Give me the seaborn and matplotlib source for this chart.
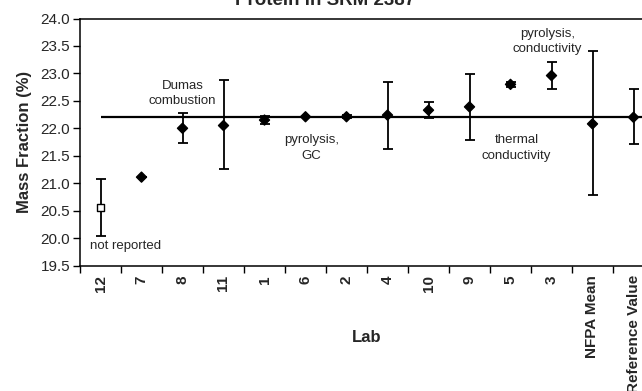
import numpy as np
import pandas as pd
import seaborn as sns
import matplotlib.pyplot as plt

# lab results (mass fraction %, error bar limits)
labs = ["12", "7", "8", "11", "1", "6", "2", "4", "10", "9", "5", "3",
        "NFPA Mean", "Reference Value"]
values = [20.55, 21.11, 22.00, 22.05, 22.15, 22.21, 22.21, 22.24, 22.33,
          22.39, 22.80, 22.96, 22.08, 22.20]
err_low = [20.03, 21.11, 21.73, 21.26, 22.08, 22.21, 22.18, 21.62, 22.19,
           21.79, 22.75, 22.72, 20.78, 21.71]
err_high = [21.07, 21.11, 22.28, 22.88, 22.22, 22.21, 22.24, 22.85, 22.48,
            22.98, 22.85, 23.20, 23.41, 22.71]
method = ["not reported"] + ["reported"] * 13
ref_value = 22.20

sns.set_style("ticks")
plt.rcParams['font.family'] = ['Liberation Sans', 'DejaVu Sans']

df = pd.DataFrame({"Lab": labs, "Mass": values, "lo": err_low, "hi": err_high,
                   "method": method})

fig = plt.figure(figsize=(6.42, 3.91), dpi=100)
ax = fig.add_axes([80 / 642, 1 - 265.5 / 391, 574 / 642, 247 / 391])

x = np.arange(len(labs))
yerr = np.array([df["Mass"] - df["lo"], df["hi"] - df["Mass"]])
ax.errorbar(x, df["Mass"], yerr=yerr, fmt="none", ecolor="black",
            elinewidth=1.3, capsize=3.8, capthick=1.3, zorder=2)

ax.hlines(ref_value, 0, len(labs) - 0.5, color="black", lw=1.6, zorder=1)

sns.scatterplot(data=df, x="Lab", y="Mass", style="method",
                markers={"not reported": "s", "reported": "D"},
                hue="method", palette={"not reported": "white", "reported": "black"},
                edgecolor="black", linewidth=1.0, s=26, legend=False, ax=ax, zorder=3)

ax.set_xlim(-0.5, len(labs) - 0.5)
ax.set_ylim(19.5, 24.0)
ax.set_yticks(np.arange(19.5, 24.01, 0.5))
ax.set_yticklabels([f"{v:.1f}" for v in np.arange(19.5, 24.01, 0.5)], fontsize=11)

# ticks at category boundaries, labels at centres
ax.set_xticks(x)
ax.set_xticklabels(labs, rotation=90, fontsize=11, fontweight="bold")
ax.tick_params(axis="x", which="major", length=0, pad=7)
ax.set_xticks(np.arange(-0.5, len(labs), 1), minor=True)
ax.tick_params(axis="x", which="minor", length=5, width=1, color="black")
ax.tick_params(axis="y", length=5, width=1, color="black", pad=2)

for s in ["left", "bottom", "top"]:
    ax.spines[s].set_color("black")
    ax.spines[s].set_linewidth(1.1)
ax.spines["right"].set_visible(False)

ax.set_xlabel("Lab", fontsize=12, fontweight="bold")
ax.xaxis.set_label_coords(0.5, -0.29)
ax.xaxis.label.set_va("center")
ax.set_ylabel("Mass Fraction (%)", fontsize=12, fontweight="bold", labelpad=6)

ax.text(2.0, 22.63, "Dumas\ncombustion", ha="center", va="center", fontsize=9.5,
        linespacing=1.4)
ax.text(5.15, 21.64, "pyrolysis,\nGC", ha="center", va="center", fontsize=9.5,
        linespacing=1.4)
ax.text(10.15, 21.64, "thermal\nconductivity", ha="center", va="center", fontsize=9.5,
        linespacing=1.4)
ax.text(10.9, 23.58, "pyrolysis,\nconductivity", ha="center", va="center", fontsize=9.5,
        linespacing=1.4)
ax.text(0.6, 19.85, "not reported", ha="center", va="center", fontsize=9.5)

fig.text(325 / 642, 1 - 5 / 391, "Protein in SRM 2387", ha="center",
         va="baseline", fontsize=13.5, fontweight="bold")

fig.savefig("out.png", dpi=100)
